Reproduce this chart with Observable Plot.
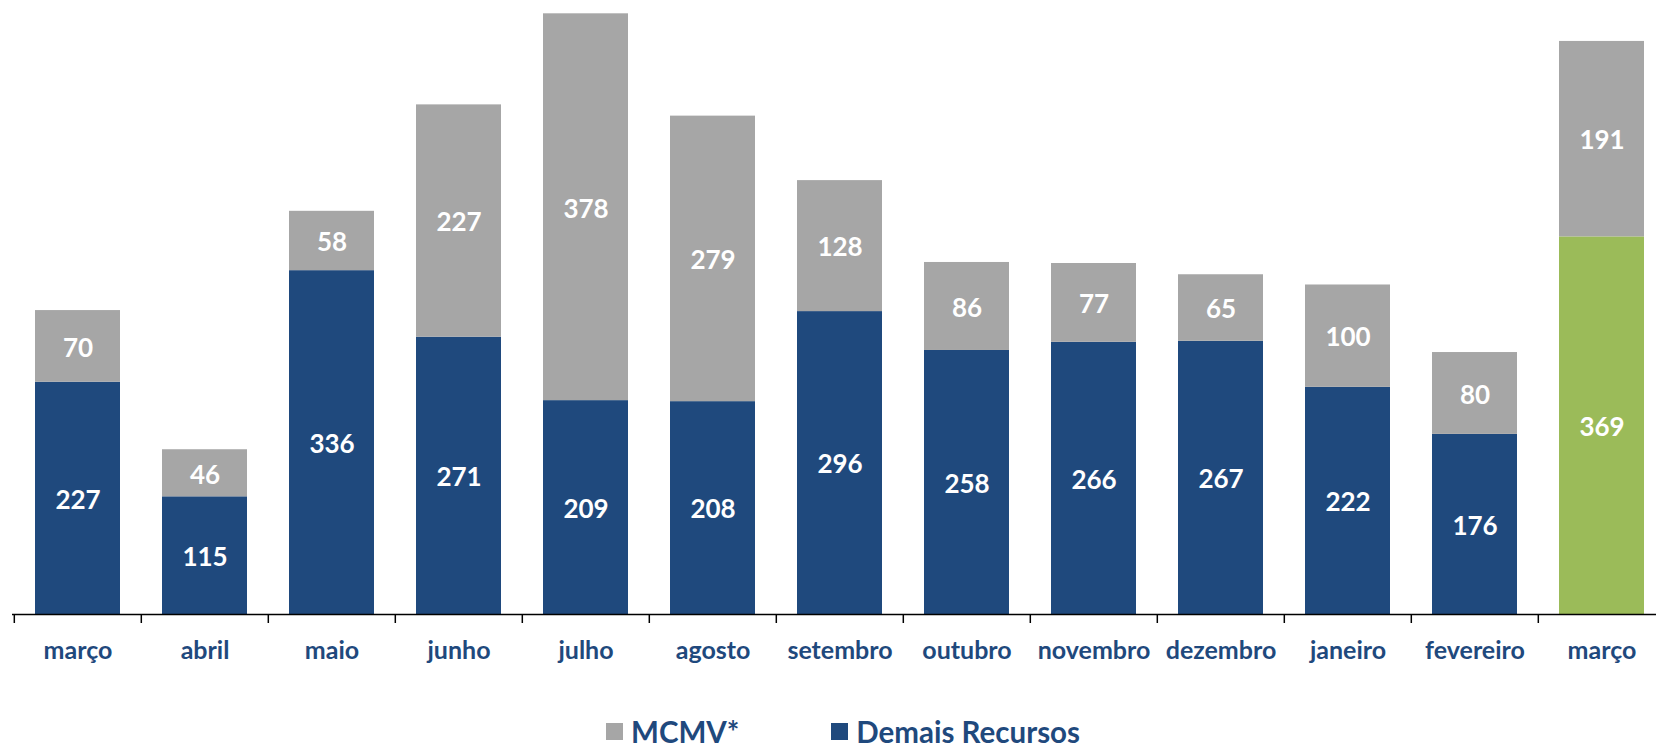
<!DOCTYPE html>
<html>
<head>
<meta charset="utf-8">
<script src="https://cdn.jsdelivr.net/npm/d3@7"></script>
<script src="https://cdn.jsdelivr.net/npm/@observablehq/plot@0.6"></script>
<style>
  html, body { margin: 0; padding: 0; background: #fff; }
  #chart svg { display: block; }
  .legend { display: flex; align-items: center; height: 46px; padding-left: 606px; padding-top: 8px;
            font-family: Lato, "Open Sans", sans-serif; font-weight: bold; font-size: 29.5px; color: #1F497D; }
  .legend .item { display: flex; align-items: center; }
  .legend .sw { width: 17px; height: 17px; margin-right: 8px; }
</style>
</head>
<body>
<div id="chart"></div>
<div class="legend">
  <div class="item"><span class="sw" style="background:#A6A6A6"></span><span>MCMV*</span></div>
  <div class="item" style="margin-left:92px"><span class="sw" style="background:#1F497D"></span><span>Demais Recursos</span></div>
</div>
<script>
const months = ["março","abril","maio","junho","julho","agosto","setembro","outubro","novembro","dezembro","janeiro","fevereiro","março"];
const demais = [227,115,336,271,209,208,296,258,266,267,222,176,369];
const mcmv   = [70,46,58,227,378,279,128,86,77,65,100,80,191];

const BLUE = "#1F497D", GRAY = "#A6A6A6", GREEN = "#9BBB59";
const idx = d3.range(months.length);
const rows = [];
idx.forEach(i => {
  rows.push({i, serie: "Demais Recursos", value: demais[i], color: i === months.length - 1 ? GREEN : BLUE});
  rows.push({i, serie: "MCMV*", value: mcmv[i], color: GRAY});
});

const x0 = 12, x1 = 1668;
const step = (x1 - x0) / months.length;

const chart = Plot.plot({
  width: 1656,
  height: 700,
  marginLeft: 12,
  marginRight: 0,
  marginTop: 0,
  marginBottom: 86,
  style: {fontFamily: "Lato, 'Open Sans', sans-serif", background: "white"},
  x: {domain: idx, range: [x0, x1], paddingInner: 0.33, paddingOuter: 0.165, axis: null},
  y: {domain: [0, 600], range: [614, 0], axis: null},
  color: {type: "identity"},
  marks: [
    Plot.barY(rows, Plot.stackY({x: "i", y: "value", fill: "color"})),
    Plot.text(rows, Plot.stackY({x: "i", y: "value", text: d => String(d.value), fill: "white",
      fontSize: 26, fontWeight: "bold", dy: 2})),
    Plot.ruleY([0], {stroke: "black", strokeWidth: 1.5}),
    Plot.ruleX(idx, {x: d => d, y1: 0, y2: 0, dx: -step / 2, insetBottom: -9, stroke: "black", strokeWidth: 1.5}),
    Plot.text(idx, {x: d => d, y: 0, dy: 36, text: d => months[d], fill: BLUE, fontSize: 25, fontWeight: "bold"})
  ]
});
document.getElementById("chart").appendChild(chart);
</script>
</body>
</html>
